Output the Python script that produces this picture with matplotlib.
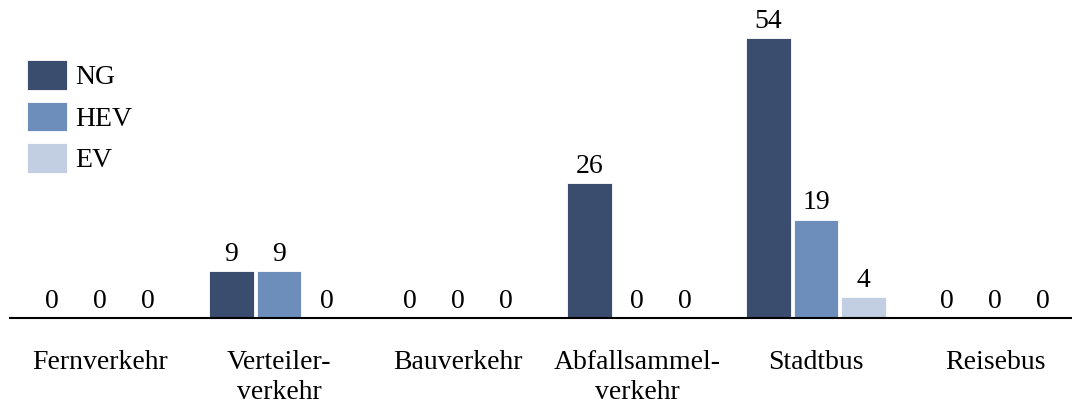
import numpy as np
import matplotlib.pyplot as plt

categories = ["Fernverkehr", "Verteiler-\nverkehr", "Bauverkehr",
              "Abfallsammel-\nverkehr", "Stadtbus", "Reisebus"]
ng = [0, 9, 0, 26, 54, 0]
hev = [0, 9, 0, 0, 19, 0]
ev = [0, 0, 0, 0, 4, 0]

series = [("NG", ng, "#3a4d6e"), ("HEV", hev, "#6d8eba"), ("EV", ev, "#c2cee2")]

plt.rcParams['font.family'] = ['Liberation Serif', 'DejaVu Serif']
fs = 20

fig = plt.figure(figsize=(10.72, 4.07), dpi=100)
ax = fig.add_axes([10 / 1072, 89 / 407, 1062 / 1072, 310 / 407])

x = np.arange(len(categories))
width = 0.25
step = 0.267

for i, (name, vals, col) in enumerate(series):
    bars = ax.bar(x + (i - 1) * step, vals, width, color=col, label=name,
                  edgecolor="white", linewidth=0.6)
    ax.bar_label(bars, labels=[str(v) for v in vals], padding=3, fontsize=fs)

ax.set_xlim(-0.503, 5.43)
ax.set_ylim(0, 59.8)
ax.set_xticks(x)
ax.set_xticklabels(categories, fontsize=fs, linespacing=1.28)
ax.tick_params(axis="x", length=0, pad=23)
ax.set_yticks([])
for s in ["top", "right", "left"]:
    ax.spines[s].set_visible(False)
ax.spines["bottom"].set_linewidth(1.5)

ax.legend(loc="upper left", bbox_to_anchor=(27 / 1072, 1 - 60 / 407),
          bbox_transform=fig.transFigure, frameon=False, fontsize=fs,
          handlelength=1.45, handleheight=1.27, handletextpad=0.3,
          labelspacing=0.41, borderpad=0, borderaxespad=0)

fig.savefig("out.png", dpi=100)
